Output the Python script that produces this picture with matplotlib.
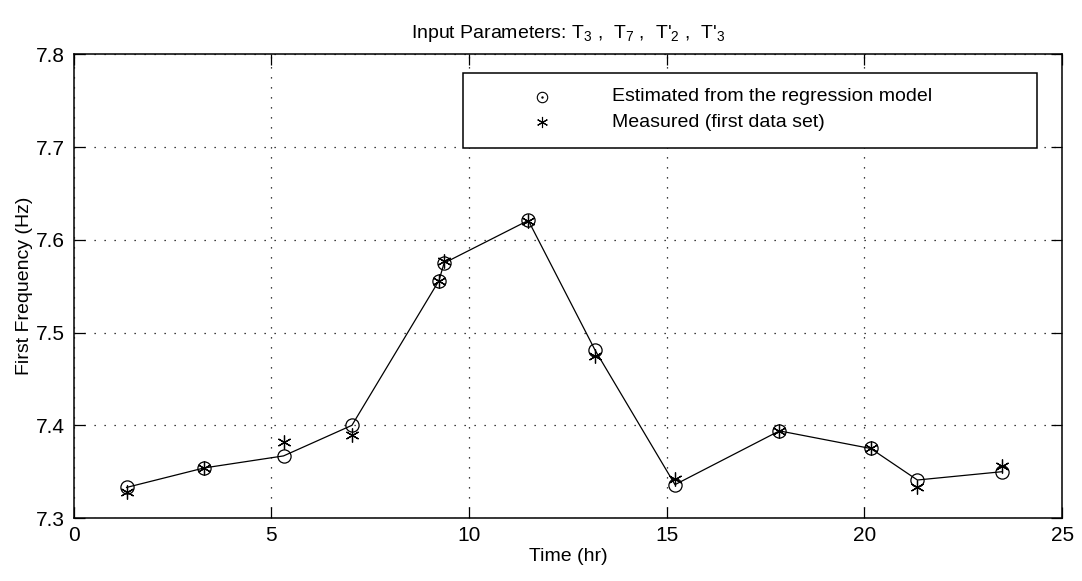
import matplotlib
matplotlib.use('Agg')
import matplotlib.pyplot as plt
import matplotlib.patches as patches

# Style settings (MATLAB-like look)
plt.rcParams['font.family'] = ['Liberation Sans', 'DejaVu Sans']
plt.rcParams['mathtext.default'] = 'regular'
plt.rcParams['font.size'] = 14

# Data
time_hr = [1.34, 3.30, 5.31, 7.04, 9.24, 9.37, 11.50, 13.19, 15.21, 17.85, 20.16, 21.34, 23.49]
estimated = [7.333, 7.354, 7.367, 7.400, 7.556, 7.575, 7.621, 7.481, 7.336, 7.394, 7.375, 7.341, 7.350]
measured = [7.328, 7.354, 7.382, 7.390, 7.556, 7.577, 7.620, 7.475, 7.342, 7.394, 7.376, 7.334, 7.356]

x_ticks = [0, 5, 10, 15, 20, 25]
y_ticks = [7.3, 7.4, 7.5, 7.6, 7.7, 7.8]

star = (6, 2, 0)

fig = plt.figure(figsize=(10.82, 5.81), dpi=100)
ax = fig.add_axes([0.068, 0.1084, 0.9136, 0.7978])

ax.plot(time_hr, estimated, color='black', linewidth=0.9)
ax.plot(time_hr, estimated, linestyle='none', marker='o', markersize=9.5,
        markerfacecolor='none', markeredgecolor='black', markeredgewidth=0.9)
ax.plot(time_hr, measured, linestyle='none', marker=star, markersize=10,
        markeredgecolor='black', markeredgewidth=0.9)

ax.set_xlim(0, 25)
ax.set_ylim(7.3, 7.8)
ax.set_xticks(x_ticks)
ax.set_yticks(y_ticks)
ax.set_xticklabels([str(t) for t in x_ticks])
ax.set_yticklabels(['%.1f' % t for t in y_ticks])
ax.tick_params(direction='in', length=8, width=0.9, top=True, right=True,
               labelsize=15, pad=6)
for s in ax.spines.values():
    s.set_linewidth(1.1)
ax.grid(True, color='black', linestyle=(0, (1, 7)), linewidth=0.9)

ax.set_xlabel('Time (hr)', fontsize=14, labelpad=2)
ax.set_ylabel('First Frequency (Hz)', fontsize=14, labelpad=2)
ax.set_title("Input Parameters: T$_3$ ,  T$_7$ ,  T'$_2$ ,  T'$_3$", fontsize=14, pad=12)

# Legend box drawn by hand (MATLAB style)
box = patches.Rectangle((0.394, 0.799), 0.581, 0.162, transform=ax.transAxes,
                        facecolor='white', edgecolor='black', linewidth=1.1, zorder=5)
ax.add_patch(box)
ax.plot([0.474], [0.909], transform=ax.transAxes, marker='o', markersize=7.5,
        markerfacecolor='none', markeredgecolor='black', markeredgewidth=0.8, zorder=6)
ax.plot([0.474], [0.909], transform=ax.transAxes, marker='.', markersize=1.5,
        color='black', zorder=6)
ax.plot([0.474], [0.854], transform=ax.transAxes, marker=star, markersize=8,
        markeredgecolor='black', markeredgewidth=0.8, zorder=6)
ax.text(0.545, 0.909, 'Estimated from the regression model', transform=ax.transAxes,
        va='center', ha='left', fontsize=14, zorder=6)
ax.text(0.545, 0.854, 'Measured (first data set)', transform=ax.transAxes,
        va='center', ha='left', fontsize=14, zorder=6)

fig.savefig('out.png', dpi=100)
